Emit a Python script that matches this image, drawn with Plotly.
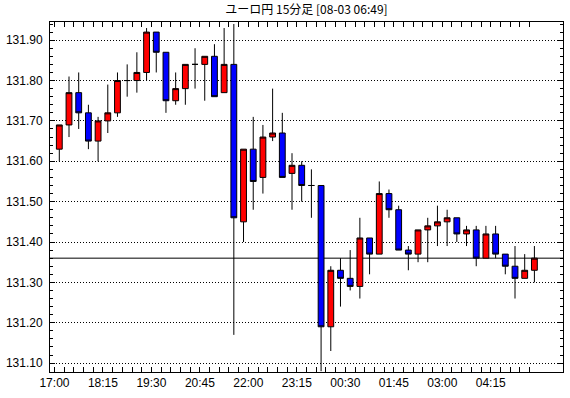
import plotly.graph_objects as go

title_text = "ユーロ円 15分足 [08-03 06:49]"

opens = [131.63, 131.69, 131.77, 131.72, 131.65, 131.70, 131.72, 131.80, 131.80, 131.82,
         131.92, 131.87, 131.75, 131.78, 131.84, 131.84, 131.86, 131.77, 131.84, 131.45,
         131.63, 131.56, 131.66, 131.67, 131.57, 131.59, 131.54, 131.54, 131.19, 131.33,
         131.31, 131.29, 131.41, 131.37, 131.52, 131.48, 131.38, 131.37, 131.43, 131.44,
         131.45, 131.46, 131.42, 131.43, 131.36, 131.42, 131.37, 131.34, 131.31, 131.33]
highs = [131.69, 131.81, 131.82, 131.74, 131.71, 131.79, 131.82, 131.84, 131.87, 131.93,
         131.92, 131.87, 131.82, 131.84, 131.88, 131.86, 131.89, 131.93, 131.94, 131.63,
         131.71, 131.69, 131.78, 131.72, 131.62, 131.60, 131.58, 131.54, 131.34, 131.36,
         131.38, 131.46, 131.41, 131.55, 131.53, 131.49, 131.39, 131.43, 131.46, 131.49,
         131.48, 131.46, 131.44, 131.44, 131.44, 131.44, 131.37, 131.39, 131.37, 131.39]
lows = [131.60, 131.66, 131.68, 131.63, 131.60, 131.67, 131.71, 131.76, 131.77, 131.80,
        131.82, 131.72, 131.74, 131.74, 131.78, 131.75, 131.76, 131.77, 131.17, 131.40,
        131.48, 131.52, 131.65, 131.56, 131.48, 131.50, 131.46, 131.08, 131.13, 131.24,
        131.28, 131.26, 131.32, 131.37, 131.46, 131.38, 131.33, 131.35, 131.35, 131.39,
        131.39, 131.40, 131.39, 131.34, 131.36, 131.36, 131.32, 131.26, 131.31, 131.30]
closes = [131.69, 131.77, 131.72, 131.65, 131.70, 131.72, 131.80, 131.80, 131.82, 131.92,
          131.87, 131.75, 131.78, 131.84, 131.84, 131.86, 131.76, 131.84, 131.46, 131.63,
          131.55, 131.66, 131.67, 131.56, 131.59, 131.54, 131.54, 131.19, 131.33, 131.31,
          131.29, 131.41, 131.37, 131.52, 131.48, 131.38, 131.37, 131.43, 131.44, 131.45,
          131.46, 131.42, 131.43, 131.36, 131.42, 131.37, 131.34, 131.31, 131.33, 131.36]

tick_labels = ["17:00", "18:15", "19:30", "20:45", "22:00",
               "23:15", "00:30", "01:45", "03:00", "04:15"]

n = len(opens)
xs = list(range(n))
label_pos = [i * 5 - 0.5 for i in range(len(tick_labels))]
minor_pos = [i - 0.5 for i in range(n)]

font_axis = "Liberation Sans Narrow, Liberation Sans, Arial, sans-serif"

fig = go.Figure()
fig.add_trace(go.Candlestick(
    x=xs, open=opens, high=highs, low=lows, close=closes,
    increasing=dict(line=dict(color="black", width=1), fillcolor="#ff0000"),
    decreasing=dict(line=dict(color="black", width=1), fillcolor="#0000ff"),
    whiskerwidth=0, showlegend=False, hoverinfo="skip",
))

fig.add_shape(type="line", xref="paper", yref="y", x0=0, x1=1,
              y0=closes[-1], y1=closes[-1],
              line=dict(color="black", width=1), layer="below")

fig.update_layout(
    width=570, height=398,
    margin=dict(l=45, r=6, t=22, b=26),
    paper_bgcolor="white", plot_bgcolor="white",
    boxgap=0.4, boxgroupgap=0,
    showlegend=False,
    title=dict(text=title_text, x=0.5, xref="paper", xanchor="center",
               y=1 - 10 / 398, yref="container", yanchor="middle",
               font=dict(family="Noto Sans CJK JP", size=12, color="black")),
    font=dict(family=font_axis, size=12, color="black"),
)

fig.update_xaxes(
    range=[-0.96, 51.95], rangeslider=dict(visible=False),
    tickmode="array", tickvals=label_pos, ticktext=tick_labels,
    ticks="inside", ticklen=5, tickcolor="black", tickwidth=1,
    minor=dict(tickmode="array", tickvals=minor_pos, ticks="inside",
               ticklen=5, tickcolor="black", tickwidth=1, showgrid=False),
    showline=True, linecolor="black", linewidth=1, mirror="ticks",
    showgrid=False, zeroline=False, fixedrange=True,
    tickfont=dict(family=font_axis, size=12, color="black"),
)

fig.update_yaxes(
    range=[131.078, 131.945],
    tickmode="linear", tick0=131.1, dtick=0.1, tickformat=".2f",
    ticks="inside", ticklen=5, tickcolor="black", tickwidth=1,
    minor=dict(dtick=0.02, tick0=131.1, ticks="inside", ticklen=3,
               tickcolor="black", tickwidth=1, showgrid=False),
    showline=True, linecolor="black", linewidth=1, mirror="ticks",
    showgrid=True, gridcolor="black", gridwidth=1, griddash="1px,2px",
    zeroline=False, fixedrange=True, ticklabelstandoff=4,
    tickfont=dict(family=font_axis, size=12, color="black"),
)

fig.write_html("out.html")
